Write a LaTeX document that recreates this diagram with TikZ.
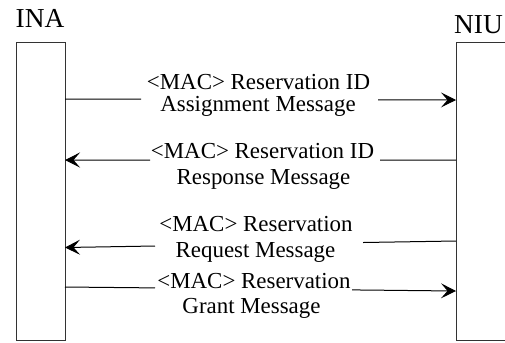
\documentclass[tikz,border=0pt]{standalone}
\usepackage{fontspec}
\setmainfont{Liberation Serif}
\usetikzlibrary{arrows.meta,calc}
\begin{document}
\begin{tikzpicture}[x=1bp,y=-1bp,
  lanebox/.style={draw=black!80, line width=0.9bp, fill=none, outer sep=0pt, inner sep=0pt, minimum width=#1, minimum height=298bp},
  titletext/.style={font=\fontsize{27.5}{30}\selectfont, inner sep=0pt, anchor=base},
  msgtext/.style={font=\fontsize{23}{25}\selectfont, inner sep=0pt, anchor=base},
  wire/.style={draw=black, line width=1bp},
  arrwire/.style={wire, -{Stealth[length=15bp,width=15bp,inset=6.5bp]}}]
\useasboundingbox (0,0) rectangle (505,342);
\fill[white] (0,0) rectangle (505,342);
\clip (0,0) rectangle (505,342);

% lifelines
\node[lanebox=49bp, anchor=north west] (ina) at (16,42) {};
\node[lanebox=80bp, anchor=north west] (niu) at (456,42) {};

% titles
\node[titletext] (inat) at (40,27.5) {INA};
\node[titletext] (niut) at (478.5,33) {NIU};

% message labels
\node[msgtext] (m1a) at (258.5,89) {<MAC> Reservation ID};
\node[msgtext] (m1b) at (258,111.5) {Assignment Message};
\node[msgtext] (m2a) at (262.5,158) {<MAC> Reservation ID};
\node[msgtext] (m2b) at (263.5,184) {Response Message};
\node[msgtext] (m3a) at (256,231) {<MAC> Reservation};
\node[msgtext] (m3b) at (255.5,257) {Request Message};
\node[msgtext] (m4a) at (254,288) {<MAC> Reservation};
\node[msgtext] (m4b) at (251.5,313) {Grant Message};

% gap ends
\coordinate (g1l) at (141,99.2);
\coordinate (g1r) at (378,99.8);
\coordinate (g2r) at (380,160);
\coordinate (g2l) at (150,160);
\coordinate (g3r) at (363,242.5);
\coordinate (g3l) at (155,246);
\coordinate (g4l) at (155,287.9);
\coordinate (g4r) at (352,289.9);

% message 1: INA -> NIU
\draw[wire] ([yshift=-57bp]ina.north east) -- (g1l);
\draw[arrwire] (g1r) -- ([yshift=-58bp]niu.north west);
% message 2: NIU -> INA
\draw[wire] ([yshift=-118bp]niu.north west) -- (g2r);
\draw[arrwire] (g2l) -- ([yshift=-118bp]ina.north east);
% message 3: NIU -> INA
\draw[wire] ([yshift=-199bp]niu.north west) -- (g3r);
\draw[arrwire] (g3l) -- ([yshift=-205.5bp]ina.north east);
% message 4: INA -> NIU
\draw[wire] ([yshift=-245bp]ina.north east) -- (g4l);
\draw[arrwire] (g4r) -- ([yshift=-249bp]niu.north west);
\end{tikzpicture}
\end{document}
